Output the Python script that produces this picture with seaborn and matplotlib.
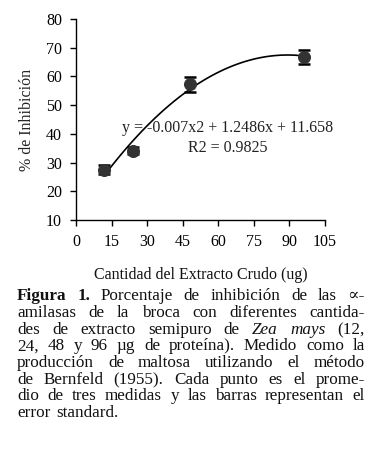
import numpy as np
import pandas as pd
import matplotlib
matplotlib.use("Agg")
import matplotlib.pyplot as plt
import seaborn as sns

# Data
cantidad = [12, 24, 48, 96]
inhibicion = [27.5, 34.2, 57.2, 66.9]
error_std = [1.5, 1.3, 2.6, 2.4]
x_ticks = [0, 15, 30, 45, 60, 75, 90, 105]
y_ticks = [10, 20, 30, 40, 50, 60, 70, 80]
ecuacion = "y = -0.007x2 + 1.2486x + 11.658"
r2_text = "R2 = 0.9825"

caption_lines = [
    [("Figura", "b"), ("1.", "b"), ("Porcentaje", ""), ("de", ""), ("inhibición", ""), ("de", ""), ("las", ""), ("∝-", "")],
    [("amilasas", ""), ("de", ""), ("la", ""), ("broca", ""), ("con", ""), ("diferentes", ""), ("cantida-", "")],
    [("des", ""), ("de", ""), ("extracto", ""), ("semipuro", ""), ("de", ""), ("Zea", "i"), ("mays", "i"), ("(12,", "")],
    [("24,", ""), ("48", ""), ("y", ""), ("96", ""), ("µg", ""), ("de", ""), ("proteína).", ""), ("Medido", ""), ("como", ""), ("la", "")],
    [("producción", ""), ("de", ""), ("maltosa", ""), ("utilizando", ""), ("el", ""), ("método", "")],
    [("de", ""), ("Bernfeld", ""), ("(1955).", ""), ("Cada", ""), ("punto", ""), ("es", ""), ("el", ""), ("prome-", "")],
    [("dio", ""), ("de", ""), ("tres", ""), ("medidas", ""), ("y", ""), ("las", ""), ("barras", ""), ("representan", ""), ("el", "")],
    [("error", ""), ("standard.", "")],
]

df = pd.DataFrame({"x": cantidad, "y": inhibicion, "err": error_std})

sns.set_theme(style="ticks")
serif = ["Liberation Serif", "DejaVu Serif"]
plt.rcParams["font.family"] = serif
plt.rcParams["text.color"] = "#111111"

W, H = 381, 470
fig = plt.figure(figsize=(W / 100, H / 100), dpi=100)
ax = fig.add_axes([76 / W, 1 - 220 / H, (325 - 76) / W, (220 - 19) / H])

# quadratic trendline fitted by seaborn
sns.regplot(data=df, x="x", y="y", order=2, ci=None, scatter=False, truncate=True,
            color="black", line_kws={"lw": 1.2}, ax=ax)
ax.errorbar(df["x"], df["y"], yerr=df["err"], fmt="none", ecolor="black",
            elinewidth=1.5, capsize=4.5, capthick=1.8, zorder=3)
sns.scatterplot(data=df, x="x", y="y", color="#333333", s=75, edgecolor="#333333",
                zorder=4, ax=ax)

ax.set_xlim(0, 105)
ax.set_ylim(10, 80)
ax.set_xticks(x_ticks)
ax.set_yticks(y_ticks)
ax.tick_params(labelsize=11.5, length=4, width=1, colors="black", pad=6)
sns.despine(ax=ax)
for s in ["left", "bottom"]:
    ax.spines[s].set_linewidth(1)
    ax.spines[s].set_color("black")
ax.set_xlabel("")
ax.set_ylabel("% de Inhibición", fontsize=11.5, labelpad=8)

ax.text(64, 42.0, ecuacion, ha="center", va="center", fontsize=11.5, color="#222222")
ax.text(64, 35.1, r2_text, ha="center", va="center", fontsize=11.5, color="#222222")

fig.text(201 / W, 1 - 275 / H, "Cantidad del Extracto Crudo (ug)", ha="center",
         va="center", fontsize=11.5)

# justified caption
fig.canvas.draw()
renderer = fig.canvas.get_renderer()
left_px, right_px = 17, 365
line_y = [296, 313, 330, 346.5, 363, 380, 396.5, 413]
cap_size = 12.3
for i, (words, yy) in enumerate(zip(caption_lines, line_y)):
    texts = []
    for w, st in words:
        t = fig.text(0, 1 - yy / H, w, ha="left", va="center", fontsize=cap_size,
                     fontweight="bold" if st == "b" else "normal",
                     fontstyle="italic" if st == "i" else "normal",
                     family=serif)
        texts.append(t)
    widths = [t.get_window_extent(renderer).width for t in texts]
    if i == len(caption_lines) - 1:
        gap = 5.5
    else:
        gap = (right_px - left_px - sum(widths)) / (len(texts) - 1)
    x = left_px
    for t, w in zip(texts, widths):
        t.set_x(x / W)
        x += w + gap

fig.savefig("out.png", dpi=100)
